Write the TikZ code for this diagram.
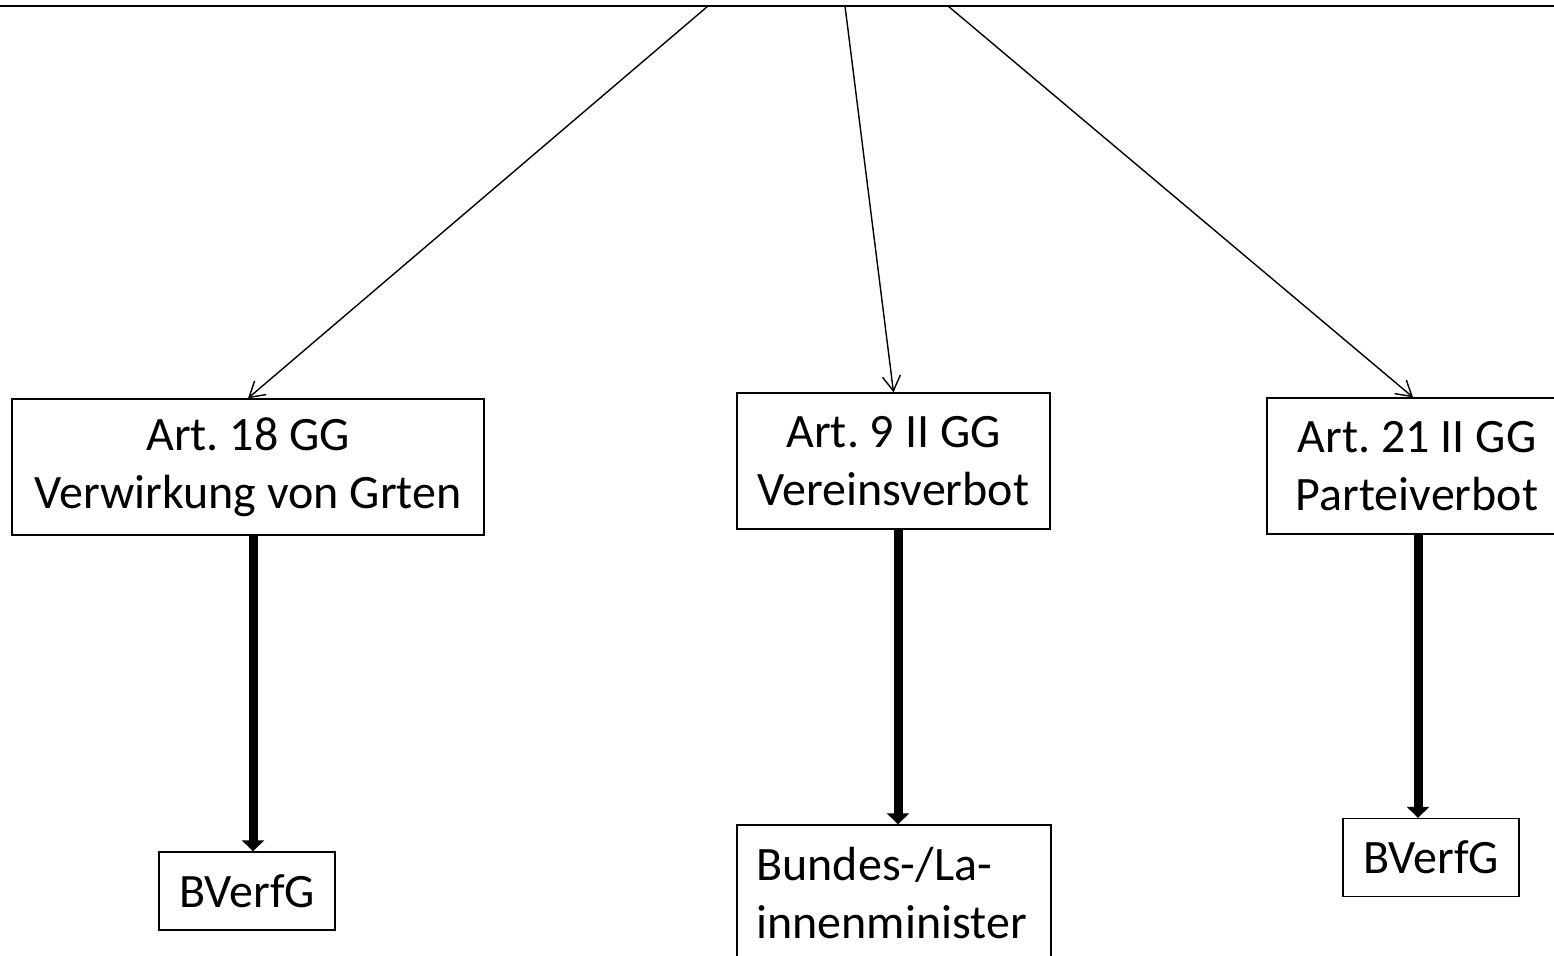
\documentclass[tikz,border=0pt]{standalone}
\usepackage{fontspec}
\setmainfont{Carlito}
\frenchspacing
\usetikzlibrary{arrows.meta}
\tikzset{
  box/.style = {draw, line width=0.8pt, inner sep=0pt, align=center, font=\fontsize{27.3}{33}\selectfont},
  thin arrow/.style = {line width=0.8pt, -{Straight Barb[length=0.3cm, width=0.36cm]}},
  thick arrow/.style = {line width=0.18cm, -{Triangle[length=0.22cm, width=0.44cm]}},
}

\begin{document}
\begin{tikzpicture}[x=0.02cm, y=-0.02cm]
  \useasboundingbox (0,0) rectangle (1554,956);

  % top edge with the three starting points
  \coordinate (topL) at (0,6);
  \coordinate (topR) at (1554,6);
  \coordinate (t1) at (708,6);
  \coordinate (t2) at (845,6);
  \coordinate (t3) at (948,6);
  \draw[line width=0.8pt] (topL) -- (topR);

  \node[box, minimum width=9.44cm, minimum height=2.72cm] (art18) at (248,467) {Art. 18 GG\\Verwirkung von Grten};
  \node[box, minimum width=6.26cm, minimum height=2.72cm] (art9) at (893.5,461) {Art. 9 II GG\\Vereinsverbot};
  \node[box, minimum width=6.0cm, minimum height=2.72cm] (art21) at (1417,466) {Art. 21 II GG\\Parteiverbot};

  \node[box, minimum width=3.52cm, minimum height=1.56cm] (bverfgA) at (247,891) {BVerfG};
  \node[box, minimum width=6.28cm, minimum height=2.72cm, align=left, text width=5.5cm] (minister) at (894,893) {Bundes-/La-\\innenminister};
  \node[box, minimum width=3.52cm, minimum height=1.56cm] (bverfgB) at (1431,857.5) {BVerfG};

  \draw[thin arrow] (t1) -- (art18.north);
  \draw[thin arrow] (t2) -- (art9.north);
  \draw[thin arrow] (t3) -- ([xshift=-0.08cm]art21.north);

  \draw[thick arrow] ([xshift=0.1cm]art18.south) -- ([xshift=0.1cm]art18.south |- bverfgA.north);
  \draw[thick arrow] ([xshift=0.09cm]art9.south) -- ([xshift=0.09cm]art9.south |- minister.north);
  \draw[thick arrow] ([xshift=0.02cm]art21.south) -- ([xshift=0.02cm]art21.south |- bverfgB.north);
\end{tikzpicture}
\end{document}
